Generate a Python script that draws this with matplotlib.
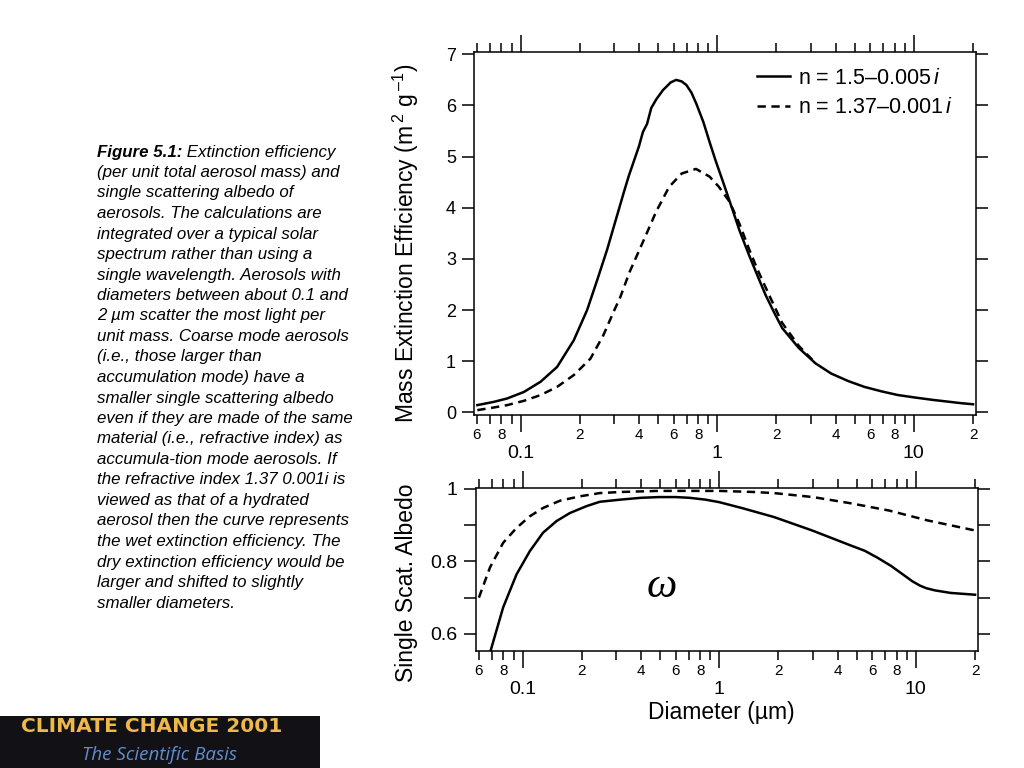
import numpy as np
import matplotlib
matplotlib.use('Agg')
import matplotlib.pyplot as plt
from matplotlib.ticker import FixedLocator, LogLocator, FuncFormatter
from matplotlib.patches import Rectangle

# mass extinction efficiency (m2 g-1) vs diameter (um)
ext_d_a = [0.0603, 0.0732, 0.0855, 0.104, 0.1265, 0.1535, 0.1865, 0.218, 0.245,
           0.275, 0.307, 0.335, 0.355, 0.373, 0.40, 0.419, 0.44, 0.462, 0.49,
           0.53, 0.58, 0.619, 0.66, 0.697, 0.74, 0.782, 0.85, 0.914, 0.98, 1.07,
           1.19, 1.30, 1.45, 1.6, 1.76, 1.95, 2.14, 2.6, 3.16, 3.8, 4.66, 5.6,
           6.88, 8.3, 10.2, 12.5, 15, 17.5, 20]
ext_a = [0.143, 0.207, 0.273, 0.40, 0.60, 0.89, 1.41, 2.0, 2.58,
         3.17, 3.80, 4.30, 4.62, 4.86, 5.2, 5.48, 5.64, 5.95, 6.12,
         6.30, 6.45, 6.50, 6.47, 6.40, 6.25, 6.04, 5.68, 5.29, 4.93, 4.51,
         3.99, 3.55, 3.08, 2.68, 2.30, 1.95, 1.65, 1.26, 0.96, 0.76, 0.61, 0.50,
         0.41, 0.34, 0.29, 0.245, 0.21, 0.18, 0.16]
ext_d_b = [0.0603, 0.0732, 0.0855, 0.104, 0.1265, 0.1535, 0.1865, 0.2266, 0.263,
           0.30, 0.322, 0.359, 0.42, 0.49, 0.57, 0.66, 0.78, 0.914, 1.02, 1.155,
           1.3, 1.45, 1.6, 1.76, 1.95, 2.14, 2.6, 3.1]
ext_b = [0.045, 0.097, 0.143, 0.227, 0.34, 0.50, 0.73, 1.05, 1.50,
         2.0, 2.26, 2.75, 3.34, 3.93, 4.41, 4.67, 4.76, 4.61, 4.41, 4.12,
         3.68, 3.2, 2.8, 2.45, 2.08, 1.75, 1.30, 1.0]

# single scattering albedo
alb_d_a = [0.069, 0.0797, 0.0932, 0.1089, 0.1272, 0.149, 0.174, 0.2114, 0.247,
           0.315, 0.4, 0.493, 0.6, 0.706, 0.85, 1.0, 1.3, 1.9, 2.97, 4.65, 5.5,
           6.38, 7.5, 8.74, 9.6, 10.5, 11.3, 12.5, 15, 20]
alb_a = [0.556, 0.673, 0.764, 0.828, 0.879, 0.911, 0.933, 0.952, 0.964,
         0.970, 0.975, 0.977, 0.977, 0.975, 0.970, 0.963, 0.947, 0.922, 0.885, 0.844, 0.829,
         0.81, 0.787, 0.761, 0.745, 0.733, 0.726, 0.72, 0.713, 0.708]
alb_d_b = [0.06, 0.0683, 0.0797, 0.0932, 0.1089, 0.1272, 0.155, 0.1955, 0.247,
           0.315, 0.49, 1.0, 1.5, 1.9, 3.0, 4.65, 7.3, 11.4, 20]
alb_b = [0.70, 0.783, 0.851, 0.892, 0.924, 0.947, 0.967, 0.979, 0.988,
         0.991, 0.994, 0.994, 0.991, 0.988, 0.977, 0.96, 0.94, 0.913, 0.885]

labels = ['n = 1.5\u20130.005$\\,\\mathit{i}$', 'n = 1.37\u20130.001$\\,\\mathit{i}$']

caption_head = 'Figure 5.1:'
caption_lines = [
    ' Extinction efficiency',
    '(per unit total aerosol mass) and',
    'single scattering albedo of',
    'aerosols. The calculations are',
    'integrated over a typical solar',
    'spectrum rather than using a',
    'single wavelength. Aerosols with',
    'diameters between about 0.1 and',
    '2 \u00b5m scatter the most light per',
    'unit mass. Coarse mode aerosols',
    '(i.e., those larger than',
    'accumulation mode) have a',
    'smaller single scattering albedo',
    'even if they are made of the same',
    'material (i.e., refractive index) as',
    'accumula-tion mode aerosols. If',
    'the refractive index 1.37 0.001i is',
    'viewed as that of a hydrated',
    'aerosol then the curve represents',
    'the wet extinction efficiency. The',
    'dry extinction efficiency would be',
    'larger and shifted to slightly',
    'smaller diameters.',
]

plt.rcParams['font.family'] = ['Liberation Sans', 'DejaVu Sans']
plt.rcParams['mathtext.fontset'] = 'custom'
plt.rcParams['mathtext.rm'] = 'Liberation Sans'
plt.rcParams['mathtext.it'] = 'Liberation Sans:italic'
plt.rcParams['lines.scale_dashes'] = False

W, H = 1024, 768
fig = plt.figure(figsize=(W / 100, H / 100), dpi=100)
ax1 = fig.add_axes([474 / W, 1 - 415 / H, 502 / W, 363 / H])
ax2 = fig.add_axes([476 / W, 1 - 651 / H, 502 / W, 163 / H])


def minor_fmt(v, pos):
    d = int(round(v / 10 ** np.floor(np.log10(v) + 1e-9)))
    return str(d) if d in (2, 4, 6, 8) else ''


def style_x(ax):
    ax.set_xscale('log')
    ax.set_xlim(0.058, 20.7)
    ax.xaxis.set_major_locator(FixedLocator([0.1, 1, 10]))
    ax.xaxis.set_major_formatter(FuncFormatter(lambda v, p: f'{v:g}'))
    ax.xaxis.set_minor_locator(LogLocator(base=10, subs=range(2, 10), numticks=50))
    ax.xaxis.set_minor_formatter(FuncFormatter(minor_fmt))
    ax.tick_params(axis='x', which='major', direction='out', length=12, width=1.1,
                   top=True, labelsize=14, pad=9.5)
    ax.tick_params(axis='x', which='minor', direction='out', length=6.5, width=1.1,
                   top=True, labelsize=11, pad=3)
    for s in ax.spines.values():
        s.set_linewidth(1.1)


lw = 1.8
dash = (0, (6, 4))

ax1.plot(ext_d_a, ext_a, color='black', lw=lw, label=labels[0])
ax1.plot(ext_d_b, ext_b, color='black', lw=lw, linestyle=dash, label=labels[1])
style_x(ax1)
ax1.set_ylim(-0.05, 7.045)
ax1.set_yticks(range(0, 8))
ax1.tick_params(axis='y', direction='out', length=8.5, width=1.1, right=True,
                labelsize=13, pad=4.5)
ax1.legend(loc='upper right', bbox_to_anchor=(0.952, 0.957), frameon=False,
           fontsize=15.5, handlelength=1.55, handletextpad=0.33, labelspacing=0.4,
           borderaxespad=0, borderpad=0)

ax2.plot(alb_d_a, alb_a, color='black', lw=lw)
ax2.plot(alb_d_b, alb_b, color='black', lw=lw, linestyle=dash)
style_x(ax2)
ax2.set_ylim(0.553, 1.002)
ax2.set_yticks([0.6, 0.7, 0.8, 0.9, 1.0])
ax2.yaxis.set_major_formatter(
    FuncFormatter(lambda v, p: f'{v:g}' if round(v * 10) % 2 == 0 else ''))
ax2.tick_params(axis='y', direction='out', length=8.5, width=1.1, right=True,
                labelsize=14, pad=5)
ax2.text(0.51, 0.73, '\u03c9', family='Liberation Serif', style='italic', fontsize=31,
         ha='center', va='center')

fig.text(406 / W, 1 - 243 / H,
         'Mass Extinction Efficiency (m$\\,^{2}$ g$\\,^{\u20131}$)',
         rotation=90, ha='center', va='center', fontsize=16.5)
fig.text(406 / W, 1 - 583 / H, 'Single Scat. Albedo', rotation=90, ha='center',
         va='center', fontsize=16.5)
fig.text(721 / W, 1 - 712 / H, 'Diameter (\u00b5m)', ha='center', va='center',
         fontsize=16.5)

# caption on the left
cap_fs = 12.2
x0, y0, step = 97, 152, 20.5
head = fig.text(x0 / W, 1 - y0 / H, caption_head, fontsize=cap_fs, style='italic',
                weight='bold', va='center', ha='left')
fig.canvas.draw()
bb = head.get_window_extent()
for i, line in enumerate(caption_lines):
    xx = bb.x1 / W if i == 0 else x0 / W
    fig.text(xx, 1 - (y0 + i * step) / H, line, fontsize=cap_fs, style='italic',
             va='center', ha='left')

# book logo, bottom left
fig.patches.append(Rectangle((0, 0), 320 / W, 52 / H, transform=fig.transFigure,
                             facecolor='#121216', edgecolor='none', zorder=0))
fig.text(152 / W, 1 - 726 / H, 'CLIMATE CHANGE 2001', fontsize=14.5, weight='bold',
         family='DejaVu Sans', color='#efb84a', ha='center', va='center')
fig.text(160 / W, 1 - 755 / H, 'The Scientific Basis', fontsize=13.5, style='italic',
         family='Open Sans', color='#5f8fd0', ha='center', va='center')

fig.savefig('out.png', dpi=100)
